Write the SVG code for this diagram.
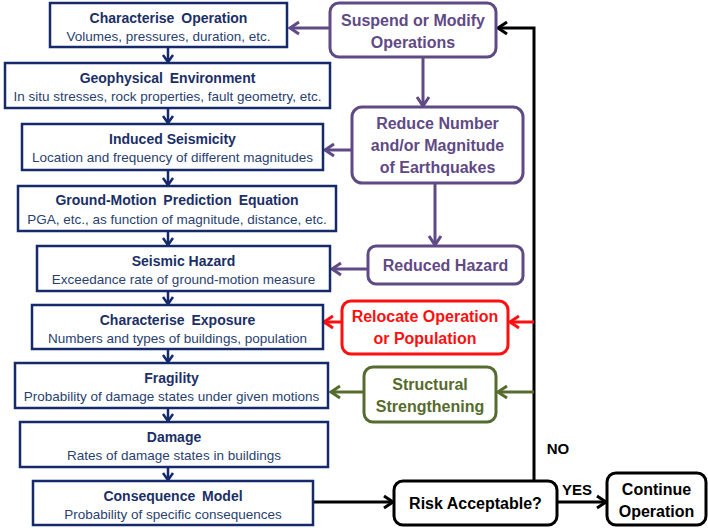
<svg xmlns="http://www.w3.org/2000/svg" width="708" height="528" viewBox="0 0 708 528">
<style>
.lb{fill:#fff;stroke:#15296b;stroke-width:2.5}
.t{font-family:"Liberation Sans",Arial,sans-serif;font-weight:bold;font-size:14px;fill:#1b2f66;text-anchor:middle}
.w{word-spacing:3px}
.s{font-family:"Liberation Sans",Arial,sans-serif;font-size:13.5px;fill:#2a3f70;text-anchor:middle}
.rb{fill:#fff;stroke-width:3}
.r{font-family:"Liberation Sans",Arial,sans-serif;font-weight:bold;font-size:16px;text-anchor:middle}
.pu{stroke:#5f4a86}
.put{fill:#5f4a86}
.re{stroke:#ff1010}
.ret{fill:#ff1010}
.gr{stroke:#566b2e}
.grt{fill:#566b2e}
.bk{stroke:#000}
.bkt{fill:#000}
.c{fill:none;stroke-width:3}
.cn{fill:none;stroke:#15296b;stroke-width:2.5}
</style>
<defs>
<marker id="an" markerUnits="userSpaceOnUse" markerWidth="14" markerHeight="14" refX="9" refY="6" orient="auto" viewBox="0 0 14 12">
<path d="M2,1 L9,6 L2,11" fill="none" stroke="#15296b" stroke-width="2.5"/>
</marker>
<marker id="ap" markerUnits="userSpaceOnUse" markerWidth="16" markerHeight="16" refX="11" refY="7" orient="auto" viewBox="0 0 16 14">
<path d="M2,1 L11,7 L2,13" fill="none" stroke="#5f4a86" stroke-width="3"/>
</marker>
<marker id="ar" markerUnits="userSpaceOnUse" markerWidth="16" markerHeight="16" refX="11" refY="7" orient="auto" viewBox="0 0 16 14">
<path d="M2,1 L11,7 L2,13" fill="none" stroke="#ff1010" stroke-width="3"/>
</marker>
<marker id="ag" markerUnits="userSpaceOnUse" markerWidth="16" markerHeight="16" refX="11" refY="7" orient="auto" viewBox="0 0 16 14">
<path d="M2,1 L11,7 L2,13" fill="none" stroke="#566b2e" stroke-width="3"/>
</marker>
<marker id="ab" markerUnits="userSpaceOnUse" markerWidth="16" markerHeight="16" refX="11" refY="7" orient="auto" viewBox="0 0 16 14">
<path d="M2,1 L11,7 L2,13" fill="none" stroke="#000" stroke-width="3"/>
</marker>
</defs>
<rect width="708" height="528" fill="#fff"/>

<g id="connectors">
<line class="cn" x1="168" y1="48" x2="168" y2="62" marker-end="url(#an)"/>
<line class="cn" x1="168" y1="109" x2="168" y2="123" marker-end="url(#an)"/>
<line class="cn" x1="168" y1="171" x2="168" y2="185" marker-end="url(#an)"/>
<line class="cn" x1="168" y1="232" x2="168" y2="245" marker-end="url(#an)"/>
<line class="cn" x1="168" y1="292" x2="168" y2="304" marker-end="url(#an)"/>
<line class="cn" x1="168" y1="350" x2="168" y2="362" marker-end="url(#an)"/>
<line class="cn" x1="168" y1="409" x2="168" y2="421" marker-end="url(#an)"/>
<line class="cn" x1="168" y1="468" x2="168" y2="480" marker-end="url(#an)"/>
<line class="c pu" x1="330" y1="28" x2="290" y2="28" marker-end="url(#ap)"/>
<line class="c pu" x1="423" y1="57" x2="423" y2="106" marker-end="url(#ap)"/>
<line class="c pu" x1="352" y1="150" x2="325" y2="150" marker-end="url(#ap)"/>
<line class="c pu" x1="435" y1="183" x2="435" y2="245" marker-end="url(#ap)"/>
<line class="c pu" x1="368" y1="269" x2="332" y2="269" marker-end="url(#ap)"/>
<polyline class="c bk" points="534,481 534,28 498,28" marker-end="url(#ab)"/>
<line class="c re" x1="534" y1="322" x2="510" y2="322" marker-end="url(#ar)"/>
<line class="c re" x1="342" y1="322" x2="324" y2="322" marker-end="url(#ar)"/>
<line class="c gr" x1="534" y1="392" x2="498" y2="392" marker-end="url(#ag)"/>
<line class="c gr" x1="364" y1="392" x2="331" y2="392" marker-end="url(#ag)"/>
<line class="c bk" x1="313" y1="502" x2="393" y2="502" marker-end="url(#ab)"/>
<line class="c bk" x1="557" y1="502" x2="606" y2="502" marker-end="url(#ab)"/>
<text class="r bkt" x="558" y="454" style="font-size:15px">NO</text>
<text class="r bkt" x="577" y="495" style="font-size:15px">YES</text>
</g>

<g id="characterise-operation">
<rect class="lb" x="50" y="3" width="237" height="44"/>
<text class="t w" x="168.5" y="23">Characterise Operation</text>
<text class="s" x="168.5" y="41">Volumes, pressures, duration, etc.</text>
</g>
<g id="geophysical-environment">
<rect class="lb" x="5" y="63" width="325" height="45"/>
<text class="t w" x="167.5" y="83">Geophysical Environment</text>
<text class="s" x="167.5" y="101">In situ stresses, rock properties, fault geometry, etc.</text>
</g>
<g id="induced-seismicity">
<rect class="lb" x="22" y="124" width="301" height="46"/>
<text class="t" x="172.5" y="144">Induced Seismicity</text>
<text class="s" x="172.5" y="162">Location and frequency of different magnitudes</text>
</g>
<g id="gmpe">
<rect class="lb" x="18" y="186" width="318" height="45"/>
<text class="t w" x="177" y="205">Ground-Motion Prediction Equation</text>
<text class="s" x="177" y="224">PGA, etc., as function of magnitude, distance, etc.</text>
</g>
<g id="seismic-hazard">
<rect class="lb" x="37" y="246" width="293" height="45"/>
<text class="t" x="183.5" y="266">Seismic Hazard</text>
<text class="s" x="183.5" y="284">Exceedance rate of ground-motion measure</text>
</g>
<g id="characterise-exposure">
<rect class="lb" x="32" y="305" width="291" height="44"/>
<text class="t w" x="177.5" y="325">Characterise Exposure</text>
<text class="s" x="177.5" y="343">Numbers and types of buildings, population</text>
</g>
<g id="fragility">
<rect class="lb" x="15" y="363" width="313" height="45"/>
<text class="t" x="171.5" y="383">Fragility</text>
<text class="s" x="171.5" y="401">Probability of damage states under given motions</text>
</g>
<g id="damage">
<rect class="lb" x="20" y="422" width="308" height="45"/>
<text class="t" x="174" y="442">Damage</text>
<text class="s" x="174" y="460">Rates of damage states in buildings</text>
</g>
<g id="consequence-model">
<rect class="lb" x="33" y="481" width="280" height="44"/>
<text class="t w" x="173" y="501">Consequence Model</text>
<text class="s" x="173" y="519">Probability of specific consequences</text>
</g>

<g id="suspend-modify">
<rect class="rb pu" x="330" y="3" width="166" height="54" rx="9"/>
<text class="r put" x="413" y="26">Suspend or Modify</text>
<text class="r put" x="413" y="48">Operations</text>
</g>
<g id="reduce-number">
<rect class="rb pu" x="352" y="107" width="171" height="76" rx="10"/>
<text class="r put" x="437.5" y="129">Reduce Number</text>
<text class="r put" x="437.5" y="151">and/or Magnitude</text>
<text class="r put" x="437.5" y="173">of Earthquakes</text>
</g>
<g id="reduced-hazard">
<rect class="rb pu" x="368" y="246" width="155" height="38" rx="8"/>
<text class="r put" x="445.5" y="271">Reduced Hazard</text>
</g>
<g id="relocate">
<rect class="rb re" x="342" y="301" width="166" height="53" rx="9"/>
<text class="r ret" x="425" y="322">Relocate Operation</text>
<text class="r ret" x="425" y="344">or Population</text>
</g>
<g id="structural-strengthening">
<rect class="rb gr" x="364" y="367" width="132" height="55" rx="9"/>
<text class="r grt" x="430" y="390">Structural</text>
<text class="r grt" x="430" y="412">Strengthening</text>
</g>
<g id="risk-acceptable">
<rect class="rb bk" x="394" y="481" width="163" height="44" rx="9"/>
<text class="r bkt" x="475.5" y="509">Risk Acceptable?</text>
</g>
<g id="continue-operation">
<rect class="rb bk" x="607" y="473" width="99" height="52" rx="9"/>
<text class="r bkt" x="656.5" y="495">Continue</text>
<text class="r bkt" x="656.5" y="517">Operation</text>
</g>
</svg>
